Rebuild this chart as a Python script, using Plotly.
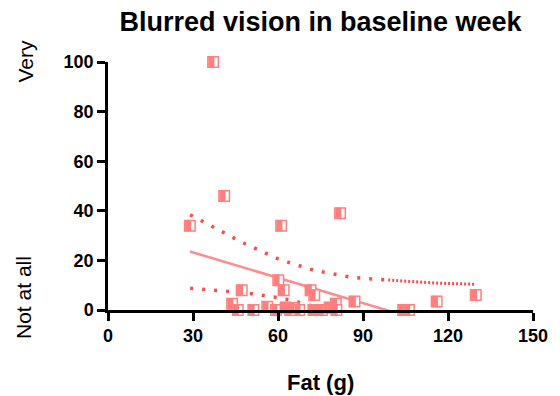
import plotly.graph_objects as go

# Data points (Fat g, blurred vision score)
fat = [37.1, 41.0, 28.9, 61.1, 81.9, 60.1, 62.0, 47.2, 71.5, 72.8, 87.0, 116.0, 129.8,
       43.8, 45.8, 51.3, 56.2, 59.3, 62.7, 65.2, 67.5, 72.5, 75.5, 78.2, 80.4, 80.6,
       104.2, 106.2, 64.3, 74.0]
score = [100, 46, 34, 34, 39, 12, 8, 8, 8, 6, 3.4, 3.4, 6,
         2.5, 0, 0, 1.3, 0, 1, 0.8, 0, 0, 0, 1, 2.5, 0,
         0, 0, 0, 0]

# Regression line
fit_x = [28.9, 129.8]
fit_y = [23.6, -10.8]

# Upper 95% CI (sparse dotted part and dense dotted part)
ci_up_x = [29, 32.8, 36.8, 40.5, 44.5, 48.4, 52.2, 56.2, 60.1, 64.5, 68.6, 72.8, 77.2, 81.7, 86, 90.5, 95, 98.9]
ci_up_y = [38.4, 36, 33.5, 31.2, 29, 26.7, 24.6, 22.6, 20.6, 18.9, 17.3, 16, 15, 14, 13.2, 12.7, 12.3, 12.1]
ci_up2_x = [98.9, 105, 110, 115, 120, 125, 129.5]
ci_up2_y = [12.1, 11.6, 11.2, 10.9, 10.7, 10.5, 10.4]

# Lower 95% CI
ci_lo_x = [29, 33, 37, 41, 45, 50, 55, 60, 65, 69, 73, 77, 81]
ci_lo_y = [8.8, 8.5, 8.1, 7.8, 7.3, 6.7, 6.0, 5.0, 3.9, 2.7, 1.2, -0.5, -2.5]

x_ticks = [0, 30, 60, 90, 120, 150]
y_ticks = [0, 20, 40, 60, 80, 100]

PINK = "#FF7F7F"
LINE = "#FF8C8C"
DOT = "#FF4A4A"
FONT = "Liberation Sans"
X_RANGE = [0, 150]
HALF_SHIFT = 0.6  # x2 axis offset so the filled half sits on the left of each square

fig = go.Figure()

fig.add_trace(go.Scatter(x=ci_up_x, y=ci_up_y, mode="lines",
                         line=dict(color=DOT, width=3.5, dash="3px,9px"), hoverinfo="skip"))
fig.add_trace(go.Scatter(x=ci_up2_x, y=ci_up2_y, mode="lines",
                         line=dict(color=DOT, width=3, dash="2px,2px"), hoverinfo="skip"))
fig.add_trace(go.Scatter(x=ci_lo_x, y=ci_lo_y, mode="lines",
                         line=dict(color=DOT, width=3.5, dash="3px,9px"), hoverinfo="skip"))
fig.add_trace(go.Scatter(x=fit_x, y=fit_y, mode="lines",
                         line=dict(color=LINE, width=2.5), hoverinfo="skip"))

# Open square outline
fig.add_trace(go.Scatter(x=fat, y=score, mode="markers",
                         marker=dict(symbol="square", size=10.5, color="white",
                                     line=dict(color=PINK, width=1.5)),
                         cliponaxis=False))
# Filled left half
fig.add_trace(go.Scatter(x=fat, y=score, mode="markers", xaxis="x2",
                         marker=dict(symbol="line-ns", size=8.2, color=PINK,
                                     line=dict(color=PINK, width=6)),
                         cliponaxis=False))

fig.update_layout(
    width=560, height=396,
    margin=dict(l=108, r=27, t=62, b=86),
    paper_bgcolor="white", plot_bgcolor="white",
    showlegend=False,
    title=dict(text="Blurred vision in baseline week", x=0.5, xref="paper", xanchor="center",
               y=1 - 22 / 396, yanchor="middle",
               font=dict(family=FONT, size=27, color="black", weight=700)),
    font=dict(family=FONT, color="black"),
    xaxis2=dict(overlaying="x", visible=False,
                range=[X_RANGE[0] + HALF_SHIFT, X_RANGE[1] + HALF_SHIFT]),
)

fig.layout.xaxis.update(range=X_RANGE, tickmode="array", tickvals=x_ticks,
                        ticktext=[str(v) for v in x_ticks],
                        showline=True, linecolor="black", linewidth=2.5,
                        ticks="outside", ticklen=8, tickwidth=2.5, tickcolor="black",
                        showgrid=False, zeroline=False,
                        tickfont=dict(family=FONT, size=18, color="black", weight=700))
fig.update_yaxes(range=[0, 100], tickmode="array", tickvals=y_ticks,
                 ticktext=[str(v) for v in y_ticks],
                 showline=True, linecolor="black", linewidth=2.5,
                 ticks="outside", ticklen=8, tickwidth=2.5, tickcolor="black",
                 showgrid=False, zeroline=False,
                 tickfont=dict(family=FONT, size=18, color="black", weight=700))

fig.add_annotation(text="Fat (g)", xref="paper", yref="paper", x=0.5, y=(310 - 382) / 247.5,
                   xanchor="center", yanchor="middle", showarrow=False,
                   font=dict(family=FONT, size=22, color="black", weight=700))
fig.add_annotation(text="Very", xref="paper", yref="paper", x=(25 - 108) / 425, y=(310 - 62) / 247.5,
                   xanchor="center", yanchor="middle", showarrow=False, textangle=-90,
                   font=dict(family=FONT, size=21, color="black"))
fig.add_annotation(text="Not at all", xref="paper", yref="paper", x=(24 - 108) / 425, y=(310 - 298) / 247.5,
                   xanchor="center", yanchor="middle", showarrow=False, textangle=-90,
                   font=dict(family=FONT, size=21, color="black"))

fig.write_html("out.html")
